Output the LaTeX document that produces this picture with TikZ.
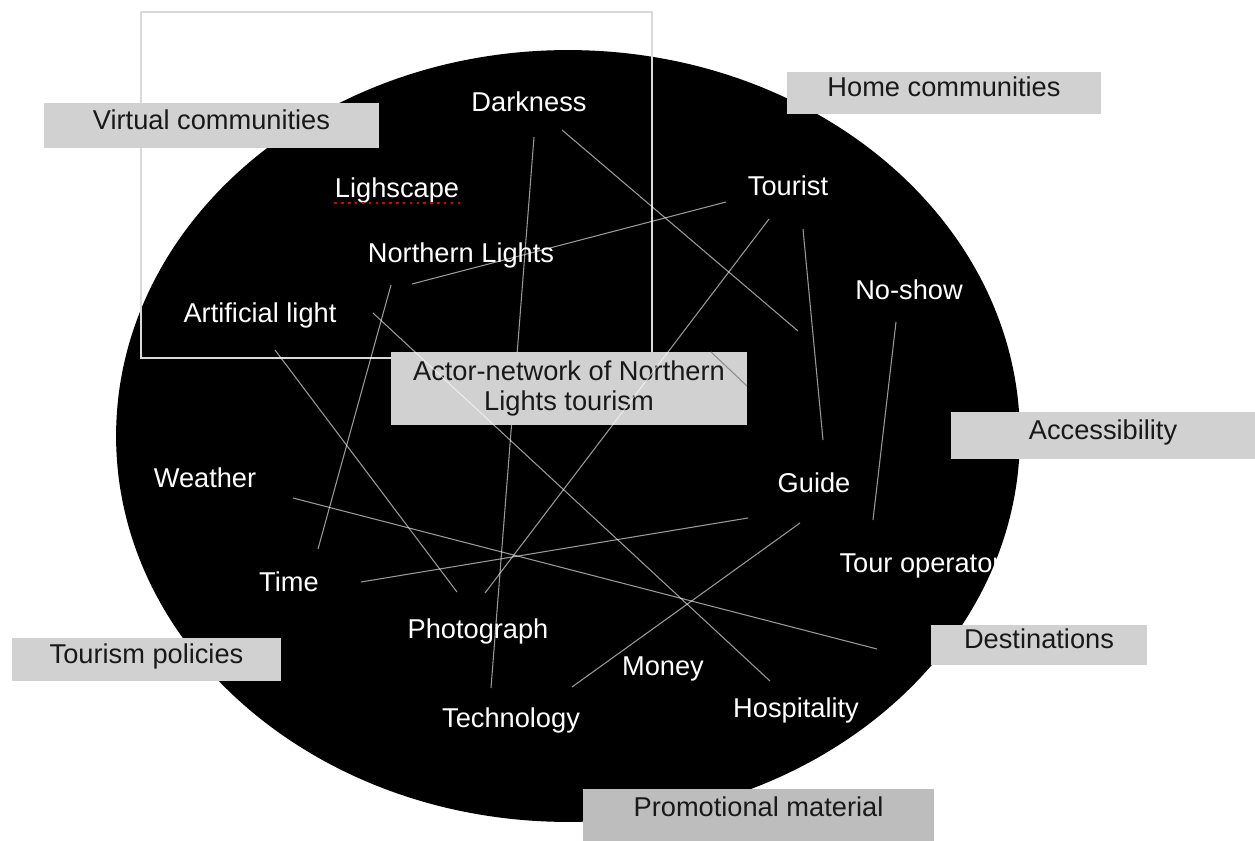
\documentclass[tikz,border=0pt]{standalone}
\usepackage{fontspec}
\setmainfont{Liberation Sans}
\usetikzlibrary{positioning,backgrounds}

\begin{document}
\begin{tikzpicture}[x = 0.02cm, y = -0.02cm, line width = 0.6pt]
	\tikzstyle{actor} = [text = white, font = \fontsize{15.5}{18}\selectfont, inner sep = 0pt, anchor = base]
	\tikzstyle{context} = [rectangle, fill = black!18, text = black!90, font = \fontsize{15.5}{18}\selectfont, text height = 0.75em, text depth = 0.3em, inner sep = 0pt]
	\tikzstyle{tie} = [white, opacity = 0.6]
	\useasboundingbox (0,0) rectangle (1255,841);
	\fill [black] (568,436) ellipse [x radius = 9.04cm, y radius = 7.72cm];
	\draw [black!15] (141,12) rectangle (652,358);
	% actors
	\node [actor] (darkness)    at (529,112) {Darkness};
	\node [actor] (lighscape)   at (397,198) {Lighscape};
	\node [actor] (northern)    at (461,263) {Northern Lights};
	\node [actor] (artificial)  at (260,323) {Artificial light};
	\node [actor] (tourist)     at (788,196) {Tourist};
	\node [actor] (noshow)      at (909,300) {No-show};
	\node [actor] (guide)       at (814,492) {Guide};
	\node [actor, anchor = base west] (operator) at (839,572) {Tour operator};
	\node [actor] (weather)     at (205,487) {Weather};
	\node [actor] (time)        at (289,591) {Time};
	\node [actor] (photograph)  at (478,638) {Photograph};
	\node [actor] (money)       at (663,675) {Money};
	\node [actor] (technology)  at (511,727) {Technology};
	\node [actor] (hospitality) at (796,717) {Hospitality};
	\draw [red!85!black, line width = 1.4pt, dash pattern = on 1.4pt off 2.5pt] ([yshift = -0.1cm]lighscape.base west) -- ([yshift = -0.1cm]lighscape.base east);
	% line ends
	\coordinate (dk1) at (534,137); \coordinate (tc1) at (491,688);
	\coordinate (dk2) at (562,130); \coordinate (gd1) at (798,331);
	\coordinate (nl1) at (412,284); \coordinate (to1) at (726,202);
	\coordinate (to2) at (769,219); \coordinate (ph1) at (485,593);
	\coordinate (to3) at (803,229); \coordinate (gd2) at (823,440);
	\coordinate (ns1) at (896,322); \coordinate (op1) at (873,520);
	\coordinate (nl2) at (391,285); \coordinate (tm1) at (318,549);
	\coordinate (al1) at (373,313); \coordinate (hp1) at (770,681);
	\coordinate (al2) at (275,350); \coordinate (ph2) at (457,592);
	\coordinate (wt1) at (293,498); \coordinate (ds1) at (877,649);
	\coordinate (tm2) at (361,582); \coordinate (gd3) at (748,518);
	\coordinate (gd4) at (800,523); \coordinate (mn1) at (572,687);
	\coordinate (ac1) at (711,352); \coordinate (ac2) at (747,386);
	\draw [tie] (dk1) -- (tc1);
	% context boxes
	\node [context, minimum width = 6.7cm, minimum height = 0.9cm] (virtual) at (211.5,125.5) {Virtual communities};
	\node [context, minimum width = 6.28cm, minimum height = 0.84cm] (home) at (944,93) {Home communities};
	\node [context, minimum width = 6.08cm, minimum height = 0.94cm] (access) at (1103,435.5) {Accessibility};
	\node [context, minimum width = 4.32cm, minimum height = 0.8cm] (dest) at (1039,645) {Destinations};
	\node [context, minimum width = 5.38cm, minimum height = 0.86cm] (policies) at (146.5,659.5) {Tourism policies};
	\node [context, fill = black!26, text depth = 0.6em, minimum width = 7.02cm, minimum height = 1.04cm] (promo) at (758.5,815) {Promotional material};
	\node [context, text height = , text depth = , align = center, minimum width = 7.12cm, minimum height = 1.46cm] (network) at (569,388.5) {Actor-network of Northern\\[-1.4pt]Lights tourism};
	% ties
	\draw [tie] (dk2) -- (gd1);
	\draw [tie] (nl1) -- (to1);
	\draw [tie] (to2) -- (ph1);
	\draw [tie] (to3) -- (gd2);
	\draw [tie] (ns1) -- (op1);
	\draw [tie] (nl2) -- (tm1);
	\draw [tie] (al1) -- (hp1);
	\draw [tie] (al2) -- (ph2);
	\draw [tie] (wt1) -- (ds1);
	\draw [tie] (tm2) -- (gd3);
	\draw [tie] (gd4) -- (mn1);
	\draw [black!45] (ac1) -- (ac2);
\end{tikzpicture}
\end{document}
